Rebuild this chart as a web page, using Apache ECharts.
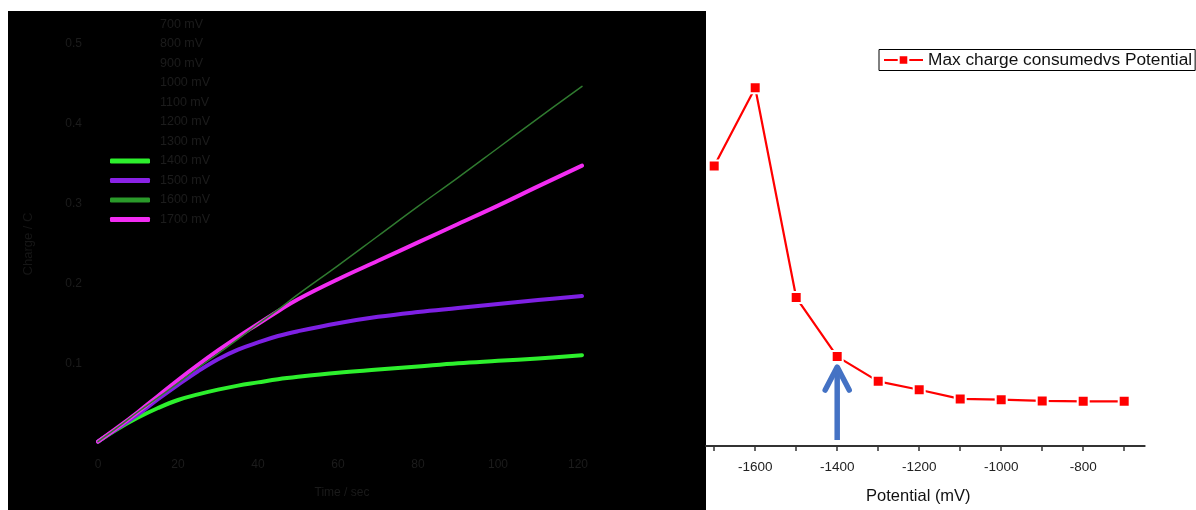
<!DOCTYPE html>
<html>
<head>
<meta charset="utf-8">
<script src="https://cdn.jsdelivr.net/npm/echarts@6/dist/echarts.min.js"></script>
<style>
html,body{margin:0;padding:0;background:#fff;}
#c{width:1196px;height:510px;}
</style>
</head>
<body>
<div id="c"></div>
<script>
// ---------- Left panel data (charge vs time for each potential) ----------
const timeSec = [0, 5, 10, 15, 20, 25, 30, 35, 40, 45, 50, 60, 70, 80, 90, 100, 110, 121];
const q1400 = [0.003, 0.019, 0.033, 0.045, 0.055, 0.062, 0.068, 0.073, 0.077, 0.081, 0.084, 0.089, 0.093, 0.097, 0.101, 0.104, 0.107, 0.111];
const q1500 = [0.003, 0.020, 0.037, 0.056, 0.074, 0.091, 0.106, 0.118, 0.127, 0.135, 0.141, 0.151, 0.159, 0.165, 0.170, 0.175, 0.180, 0.185];
const q1600 = [0.003, 0.021, 0.040, 0.058, 0.076, 0.095, 0.113, 0.131, 0.150, 0.168, 0.187, 0.223, 0.260, 0.297, 0.333, 0.370, 0.407, 0.447];
const q1700 = [0.003, 0.021, 0.040, 0.060, 0.080, 0.099, 0.117, 0.134, 0.150, 0.166, 0.181, 0.206, 0.229, 0.252, 0.275, 0.298, 0.322, 0.348];
const legendNames = ['700 mV', '800 mV', '900 mV', '1000 mV', '1100 mV', '1200 mV', '1300 mV', '1400 mV', '1500 mV', '1600 mV', '1700 mV'];
const curves = { '1400 mV': q1400, '1500 mV': q1500, '1600 mV': q1600, '1700 mV': q1700 };
const leftYTicks = [0.1, 0.2, 0.3, 0.4, 0.5];

// ---------- Right panel data (max charge vs potential) ----------
const potentialMv = [-1700, -1600, -1500, -1400, -1300, -1200, -1100, -1000, -900, -800, -700];
const maxCharge = [0.351, 0.449, 0.186, 0.112, 0.081, 0.0705, 0.059, 0.058, 0.0565, 0.056, 0.056];
const rightTickValues = [-1700, -1600, -1500, -1400, -1300, -1200, -1100, -1000, -900, -800, -700];
const rightLabelValues = [-1600, -1400, -1200, -1000, -800];
const arrowAt = [[-1400, 0.0075, 0.0989]]; // x, tail, tip

// ---------- Styles ----------
const FONT = '"Liberation Sans", Arial, sans-serif';
const dim = '#1c1c1c';
const curveStyle = {
  '1400 mV': { color: '#2df02d', line: '#2df02d', width: 4 },
  '1500 mV': { color: '#8a22e6', line: '#7e20e4', width: 4 },
  '1600 mV': { color: '#2a9a2a', line: '#2f7a2f', width: 1.5 },
  '1700 mV': { color: '#f22cf2', line: '#f22cf2', width: 4 }
};

const leftSeries = legendNames.map(function (n) {
  const vals = curves[n];
  const st = curveStyle[n] || { color: '#000', line: '#000', width: 1 };
  return {
    name: n, type: 'line', xAxisIndex: 0, yAxisIndex: 0,
    data: vals ? timeSec.map(function (t, i) { return [t, vals[i]]; }) : [],
    showSymbol: false, symbol: 'none', smooth: 0.4,
    itemStyle: { color: st.color },
    lineStyle: { color: st.line, width: st.width, cap: 'round', join: 'round' },
    z: n === '1600 mV' ? 4 : 3
  };
});

const chart = echarts.init(document.getElementById('c'), null, { renderer: 'canvas' });
chart.setOption({
  animation: false,
  backgroundColor: '#ffffff',
  textStyle: { fontFamily: FONT },
  graphic: [{
    type: 'rect', left: 8, top: 11, z: -10,
    shape: { width: 698, height: 499 },
    style: { fill: '#000' }
  }],
  grid: [
    { left: 98, top: 44, width: 488, height: 400 },
    { left: 706, right: 51.3, top: 47, bottom: 61 }
  ],
  xAxis: [
    {
      gridIndex: 0, type: 'value', min: 0, max: 122, interval: 20,
      axisLine: { show: false }, axisTick: { show: false }, splitLine: { show: false },
      axisLabel: { color: dim, fontSize: 12, margin: 15, fontFamily: FONT,
        formatter: function (v) { return v % 20 === 0 ? String(v) : ''; } },
      name: 'Time / sec', nameLocation: 'middle', nameGap: 43,
      nameTextStyle: { color: '#1a1a1a', fontSize: 12, fontFamily: FONT }
    },
    {
      gridIndex: 1, type: 'value', min: -1720, max: -650,
      axisLine: { show: true, onZero: false, lineStyle: { color: '#333', width: 2 } },
      axisTick: { show: true, inside: false, length: 5, customValues: rightTickValues, lineStyle: { color: '#333', width: 1.5 } },
      axisLabel: { color: '#222', fontSize: 13.5, margin: 14, fontFamily: FONT, customValues: rightLabelValues,
        formatter: function (v) { return String(v); } },
      splitLine: { show: false },
      name: 'Potential (mV)', nameLocation: 'middle', nameGap: 42,
      nameTextStyle: { color: '#111', fontSize: 16.5, fontFamily: FONT, padding: [0, 14, 0, 0] }
    }
  ],
  yAxis: [
    {
      gridIndex: 0, type: 'value', min: 0, max: 0.5, interval: 0.1,
      axisLine: { show: false }, axisTick: { show: false }, splitLine: { show: false },
      axisLabel: { color: dim, fontSize: 12, margin: 16, fontFamily: FONT,
        customValues: leftYTicks,
        formatter: function (v) { return v.toFixed(1); } },
      name: 'Charge / C', nameLocation: 'middle', nameGap: 63,
      nameTextStyle: { color: '#161616', fontSize: 13, fontFamily: FONT }
    },
    {
      gridIndex: 1, type: 'value', min: 0, max: 0.5, show: false
    }
  ],
  legend: [
    {
      orient: 'vertical', left: 110, top: 17, itemWidth: 40, itemHeight: 5,
      itemGap: 4.5, icon: 'roundRect', selectedMode: false, padding: 0,
      data: legendNames,
      textStyle: { color: dim, fontSize: 12.5, lineHeight: 15, fontFamily: FONT, padding: [0, 0, 0, 5] }
    },
    {
      left: 879, top: 49.5, orient: 'horizontal', selectedMode: false,
      borderColor: '#000', borderWidth: 1, borderRadius: 0, padding: [2, 3, 2, 4],
      itemWidth: 39, itemHeight: 12,
      data: ['Max charge consumedvs Potential'],
      textStyle: { color: '#111', fontSize: 17.3, fontFamily: FONT }
    }
  ],
  series: leftSeries.concat([
    {
      name: 'Max charge consumedvs Potential', type: 'line', xAxisIndex: 1, yAxisIndex: 1,
      data: potentialMv.map(function (p, i) { return [p, maxCharge[i]]; }),
      symbol: 'rect', symbolSize: 11,
      itemStyle: { color: '#ff0000', borderColor: '#ffffff', borderWidth: 2 },
      lineStyle: { color: '#ff0000', width: 2.2 }, z: 3
    },
    {
      type: 'custom', xAxisIndex: 1, yAxisIndex: 1, silent: true, z: 5,
      data: arrowAt,
      encode: { x: 0, y: [1, 2] },
      renderItem: function (params, api) {
        const p0 = api.coord([api.value(0), api.value(1)]);
        const p1 = api.coord([api.value(0), api.value(2)]);
        const st = { stroke: '#4472c4', lineWidth: 5.5, fill: null };
        return {
          type: 'group',
          children: [
            { type: 'line', shape: { x1: p0[0], y1: p0[1], x2: p1[0], y2: p1[1] + 3 },
              style: Object.assign({ lineCap: 'butt' }, st) },
            { type: 'polyline', shape: { points: [[p1[0] - 12, p1[1] + 23], [p1[0], p1[1]], [p1[0] + 12, p1[1] + 23]] },
              style: Object.assign({ lineCap: 'round', lineJoin: 'round' }, st) }
          ]
        };
      }
    }
  ])
});
</script>
</body>
</html>
